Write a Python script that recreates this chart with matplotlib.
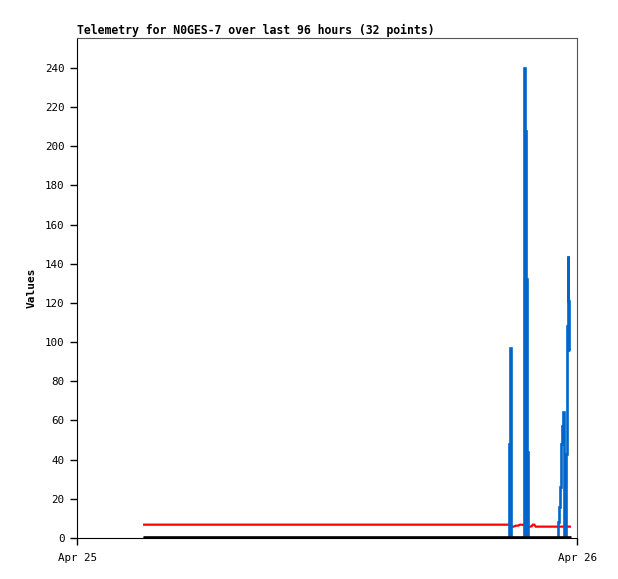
import matplotlib
matplotlib.use("Agg")
import matplotlib.pyplot as plt

# hours after Apr 25 00:00
title = "Telemetry for N0GES-7 over last 96 hours (32 points)"
x_ticks = [0, 24]
x_labels = ["Apr 25", "Apr 26"]
y_ticks = list(range(0, 241, 20))

blue_t = [3.17, 20.74, 20.78, 20.85,
          21.45, 21.49, 21.54, 21.57, 21.61, 21.64,
          23.09, 23.12, 23.16, 23.21, 23.25, 23.29, 23.33, 23.37, 23.41,
          23.47, 23.51, 23.55, 23.59, 23.63, 23.66]
blue_v = [0, 48, 97, 0,
          240, 208, 0, 132, 44, 0,
          8, 16, 26, 37, 48, 57, 64.5, 0, 0,
          43, 108, 144, 121, 96, 96]

red_t = [3.17, 20.81, 20.84, 20.96, 21.07, 21.17, 21.26, 21.36, 21.46,
         21.55, 21.64, 21.74, 21.83, 21.88, 21.95, 22.02, 23.71]
red_v = [6.8, 6.8, 5.8, 5.8, 6.3, 6.3, 6.8, 6.8, 6.6,
         6.6, 5.8, 5.8, 6.0, 6.8, 6.8, 5.8, 5.8]

black_t = [3.17, 23.71]
black_v = [0.3, 0.3]

plt.rcParams['font.family'] = ['DejaVu Sans Mono']

fig = plt.figure(figsize=(6.18, 5.79), dpi=100)
ax = fig.add_axes([77/618, 1-538/579, 500/618, 500/579])

ax.plot(red_t, red_v, color='#ff0000', linewidth=1.6, zorder=2,
        solid_capstyle='butt', solid_joinstyle='miter')
ax.plot(blue_t, blue_v, color='#0066cc', linewidth=1.9, zorder=3, drawstyle='steps-post',
        solid_capstyle='butt', solid_joinstyle='miter')
ax.plot(black_t, black_v, color='black', linewidth=1.9, zorder=4, clip_on=False,
        solid_capstyle='butt')

ax.set_xlim(0, 24)
ax.set_ylim(0, 255.3)
ax.set_xticks(x_ticks)
ax.set_xticklabels(x_labels)
ax.set_yticks(y_ticks)
ax.tick_params(axis='both', direction='out', length=5, width=1, labelsize=7.8, pad=4)
ax.tick_params(axis='x', pad=6)

for s in ['top', 'right']:
    ax.spines[s].set_color('#555555')
for s in ['left', 'bottom']:
    ax.spines[s].set_color('black')

ax.set_ylabel("Values", fontsize=8, fontweight='bold', labelpad=6)
ax.set_title(title, loc='left', fontsize=8.3, fontweight='bold', pad=3)

fig.savefig("out.png", dpi=100)
